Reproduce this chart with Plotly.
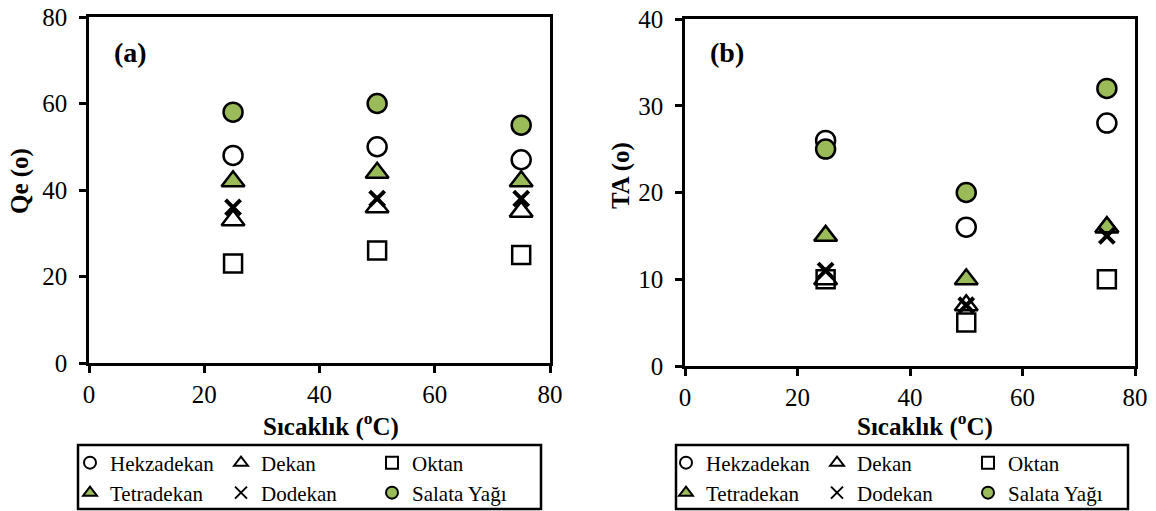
import plotly.graph_objects as go

W, H = 1156, 511

temps = [25, 50, 75]
series_names = ["Hekzadekan", "Dekan", "Oktan", "Tetradekan", "Dodekan", "Salata Yağı"]

# Panel (a): Qe (o)
qe_hekzadekan = [48, 50, 47]
qe_dekan = [33, 36, 35]
qe_oktan = [23, 26, 25]
qe_tetradekan = [42, 44, 42]
qe_dodekan = [36, 38, 38]
qe_salata = [58, 60, 55]

# Panel (b): TA (o)
ta_hekzadekan = [26, 16, 28]
ta_dekan = [10, 7, 16]
ta_oktan = [10, 5, 10]
ta_tetradekan = [15, 10, 16]
ta_dodekan = [11, 7, 15]
ta_salata = [25, 20, 32]

x_ticks = [0, 20, 40, 60, 80]
qe_ticks = [0, 20, 40, 60, 80]
ta_ticks = [0, 10, 20, 30, 40]

GREEN = "#9BBB59"
FONT = "Liberation Serif, Times New Roman, serif"

styles = [
    dict(symbol="circle-open", color="black", size=19),
    dict(symbol="triangle-up-open", color="black", size=20),
    dict(symbol="square-open", color="black", size=18),
    dict(symbol="triangle-up", color=GREEN, size=20),
    dict(symbol="x-thin-open", color="black", size=15),
    dict(symbol="circle", color=GREEN, size=19),
]


def px_x(p):
    return p / W


def px_y(p):
    return 1 - p / H


fig = go.Figure()

panels = [
    ("x", "y", [qe_hekzadekan, qe_dekan, qe_oktan, qe_tetradekan, qe_dodekan, qe_salata], ["legend", "legend2"]),
    ("x2", "y2", [ta_hekzadekan, ta_dekan, ta_oktan, ta_tetradekan, ta_dodekan, ta_salata], ["legend3", "legend4"]),
]

for xa, ya, data, legs in panels:
    for i, (name, vals, st) in enumerate(zip(series_names, data, styles)):
        is_x = st["symbol"].startswith("x")
        marker = dict(symbol=st["symbol"], size=st["size"], color=st["color"],
                      line=dict(color="black", width=4 if is_x else 2.5))
        fig.add_trace(go.Scatter(
            x=temps, y=vals, mode="markers", name=name,
            marker=marker, xaxis=xa, yaxis=ya,
            legend=legs[0] if i < 3 else legs[1],
        ))

axis_common = dict(
    showgrid=False, zeroline=False, showline=True, linecolor="black", linewidth=2.5,
    mirror=True, ticks="outside", ticklen=7, tickwidth=2.5, tickcolor="black",
    tickfont=dict(family=FONT, size=25, color="black"), automargin=False,
    ticklabeloverflow="allow",
)

fig.update_layout(
    width=W, height=H, margin=dict(l=0, r=0, t=0, b=0, pad=0, autoexpand=False),
    paper_bgcolor="white", plot_bgcolor="white",
    font=dict(family=FONT, color="black"),
    xaxis=dict(domain=[px_x(89), px_x(550)], range=[0, 80], tickvals=x_ticks, anchor="y", **axis_common),
    yaxis=dict(domain=[px_y(363), px_y(17)], range=[0, 80], tickvals=qe_ticks, anchor="x",
               ticklabelstandoff=7, **axis_common),
    xaxis2=dict(domain=[px_x(685), px_x(1135)], range=[0, 80], tickvals=x_ticks, anchor="y2", **axis_common),
    yaxis2=dict(domain=[px_y(366), px_y(19)], range=[0, 40], tickvals=ta_ticks, anchor="x2",
                ticklabelstandoff=7, **axis_common),
)

leg_common = dict(orientation="h", borderwidth=0, bgcolor="rgba(0,0,0,0)",
                  font=dict(family=FONT, size=21, color="black"),
                  itemsizing="constant", entrywidth=106, entrywidthmode="pixels",
                  xanchor="left", yanchor="middle", itemclick=False, itemdoubleclick=False)
fig.update_layout(
    legend=dict(x=px_x(70), y=px_y(463), **leg_common),
    legend2=dict(x=px_x(70), y=px_y(493), **leg_common),
    legend3=dict(x=px_x(666), y=px_y(463), **leg_common),
    legend4=dict(x=px_x(666), y=px_y(493), **leg_common),
)

# legend boxes
for x0, x1 in [(78, 541), (676, 1128)]:
    fig.add_shape(type="rect", xref="paper", yref="paper",
                  x0=px_x(x0), x1=px_x(x1), y0=px_y(509), y1=px_y(445),
                  line=dict(color="black", width=2.5), fillcolor="rgba(0,0,0,0)")

annos = [
    dict(x=px_x(130), y=px_y(52), text="<b>(a)</b>", size=28, angle=0),
    dict(x=px_x(727), y=px_y(52), text="<b>(b)</b>", size=28, angle=0),
    dict(x=px_x(331), y=px_y(424), text="<b>Sıcaklık (<sup>o</sup>C)</b>", size=25, angle=0),
    dict(x=px_x(925), y=px_y(424), text="<b>Sıcaklık (<sup>o</sup>C)</b>", size=25, angle=0),
    dict(x=px_x(20), y=px_y(181), text="<b>Qe (o)</b>", size=25, angle=-90),
    dict(x=px_x(621), y=px_y(176), text="<b>TA (o)</b>", size=25, angle=-90),
]
for a in annos:
    fig.add_annotation(x=a["x"], y=a["y"], xref="paper", yref="paper", text=a["text"],
                       showarrow=False, textangle=a["angle"], xanchor="center", yanchor="middle",
                       font=dict(family=FONT, size=a["size"], color="black"))

# Remove the browser's default 8px body margin so the figure sits at the window's top-left corner.
fig.write_html("out.html", config={"displayModeBar": False},
               post_script="document.body.style.margin='0px';")
